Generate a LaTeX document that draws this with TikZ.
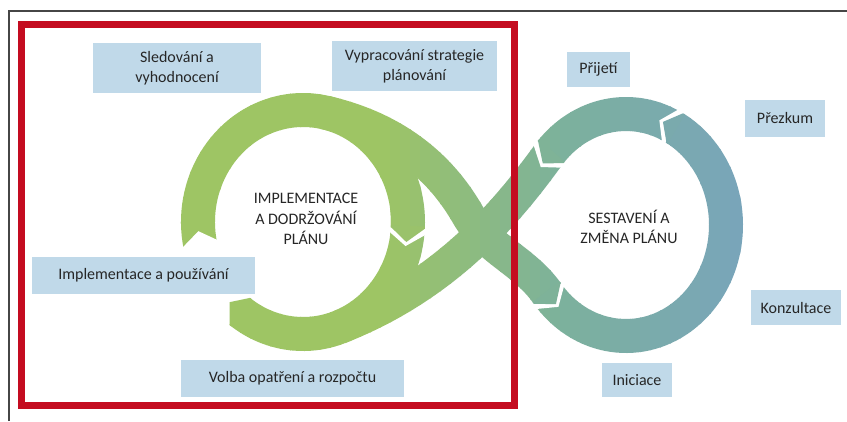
\documentclass[tikz,border=0pt]{standalone}
\usepackage{fontspec}
\setmainfont{Carlito}
\usetikzlibrary{calc}

\definecolor{loopgreen}{RGB}{158,197,100}
\definecolor{loopteal}{RGB}{124,177,156}
\definecolor{loopblue}{RGB}{121,165,186}
\definecolor{boxblue}{RGB}{192,217,233}
\definecolor{framered}{RGB}{196,12,32}
\definecolor{framegrey}{RGB}{70,70,70}
\definecolor{textgrey}{RGB}{38,38,38}

% band colour by x position (green -> teal -> blue)
\newcommand\setbandcol[1]{%
  \pgfmathsetmacro\bcx{#1}%
  \ifdim\bcx pt<560pt
    \pgfmathtruncatemacro\bcp{max(0,min(100,(\bcx-380)/1.8))}%
    \colorlet{bandcol}{loopteal!\bcp!loopgreen}%
  \else
    \pgfmathtruncatemacro\bcp{max(0,min(100,(\bcx-560)/1.8))}%
    \colorlet{bandcol}{loopblue!\bcp!loopteal}%
  \fi}

\tikzset{
  band/.style={line width=34pt, draw=bandcol},
  stagebox/.style={fill=boxblue, text=textgrey, align=center, inner sep=0pt,
    font=\fontsize{16}{20}\selectfont},
  looptext/.style={text=textgrey, align=center, font=\fontsize{16}{20.5}\selectfont}
}

% arrow bodies of both loops and the crossing
\newcommand\bandbodies{%
  \draw[band] (L) ++(168:105 and 112) arc[start angle=168, end angle=363, x radius=105, y radius=112];
  \draw[band] (L) ++(5.1:105 and 112) arc[start angle=5.1, end angle=127, x radius=105, y radius=112];
  \draw[band] (R) ++(297:100 and 111) arc[start angle=297, end angle=221.2, x radius=100, y radius=111];
  \draw[band] (R) ++(140:100 and 111) arc[start angle=140, end angle=-60.8, x radius=100, y radius=111];
  \draw[band] (aS) .. controls +(12.8:90) and +(240:35) .. (aM)
                   .. controls +(60:40) and +(234.9:40) .. (aE);
  \draw[band] (bS) .. controls +(126.1:60) and +(-21.2:120) .. (bE);
}
% tips and tail notches
\newcommand\tipL[3]{\fill[bandcol] ($(L)+(#3:122 and 129)$) -- ($(L)+(#1:122 and 129)$) -- ($(L)+(#2:105 and 112)$) -- ($(L)+(#1:88 and 95)$) -- ($(L)+(#3:88 and 95)$) -- cycle;}
\newcommand\tipR[3]{\fill[bandcol] ($(R)+(#3:117 and 128)$) -- ($(R)+(#1:117 and 128)$) -- ($(R)+(#2:100 and 111)$) -- ($(R)+(#1:83 and 94)$) -- ($(R)+(#3:83 and 94)$) -- cycle;}
\newcommand\notchL[3]{\fill[white] ($(L)+(#3:125 and 132)$) -- ($(L)+(#1:125 and 132)$) -- ($(L)+(#2:105 and 112)$) -- ($(L)+(#1:85 and 92)$) -- ($(L)+(#3:85 and 92)$) -- cycle;}
\newcommand\notchR[3]{\fill[white] ($(R)+(#3:120 and 131)$) -- ($(R)+(#1:120 and 131)$) -- ($(R)+(#2:100 and 111)$) -- ($(R)+(#1:80 and 91)$) -- ($(R)+(#3:80 and 91)$) -- cycle;}

\begin{document}
\begin{tikzpicture}[x=1pt, y=-1pt]
  \useasboundingbox (0,0) rectangle (847,421);
  \fill[white] (0,0) rectangle (847,421);

  \coordinate (L) at (303,222);
  \coordinate (R) at (626,225);
  \path (L) ++(282:105 and 112) coordinate (aS);
  \coordinate (aM) at (468,215);
  \path (R) ++(142:100 and 111) coordinate (aE);
  \path (R) ++(219:100 and 111) coordinate (bS);
  \path (L) ++(70:105 and 112) coordinate (bE);

  % bands in vertical strips for the colour run
  \foreach \sx in {160,170,...,760} {
    \setbandcol{\sx+5}
    \begin{scope}
      \clip (\sx,0) rectangle (\sx+11,421);
      \bandbodies
    \end{scope}
  }

  \notchL{168}{175.3}{166}
  \notchL{5.1}{12.4}{4}
  \notchR{297}{289.5}{298.5}
  \notchR{140}{132.5}{141.5}
  \notchR{219}{211.5}{220}

  \setbandcol{405}\tipL{363}{370.3}{362}
  \setbandcol{235}\tipL{127}{134.3}{126}
  \setbandcol{665}\tipR{-60.8}{-68.3}{-59.8}
  \setbandcol{552}\tipR{142}{134.5}{143}
  \setbandcol{545}\tipR{221.2}{213.7}{222.2}

  % frames
  \draw[framegrey, line width=1.5pt] (9,421) -- (9,11) -- (847,11);
  \draw[framered, line width=7pt] (21,24.5) rectangle (514.5,405.5);

  % loop titles
  \node[looptext] (impltitle) at (306,219) {IMPLEMENTACE\\A DODRŽOVÁNÍ\\PLÁNU};
  \node[looptext] (sesttitle) at (629,227) {SESTAVENÍ A\\ZMĚNA PLÁNU};

  % stages
  \node[stagebox, minimum width=168pt, minimum height=50pt] (sled) at (177,68) {Sledování a\\vyhodnocení};
  \node[stagebox, minimum width=165pt, minimum height=50pt] (vypr) at (414.5,66) {Vypracování strategie\\plánování};
  \node[stagebox, minimum width=63pt, minimum height=35pt] (prij) at (598.5,69.5) {Přijetí};
  \node[stagebox, minimum width=80pt, minimum height=37pt] (prez) at (785,118.5) {Přezkum};
  \node[stagebox, minimum width=223pt, minimum height=37pt] (impl) at (143.5,275.5) {Implementace a používání};
  \node[stagebox, minimum width=90pt, minimum height=35pt] (konz) at (796,307.5) {Konzultace};
  \node[stagebox, minimum width=223pt, minimum height=37pt] (volb) at (292.5,378.5) {Volba opatření a rozpočtu};
  \node[stagebox, minimum width=70pt, minimum height=34pt] (inic) at (637,380) {Iniciace};
\end{tikzpicture}
\end{document}
